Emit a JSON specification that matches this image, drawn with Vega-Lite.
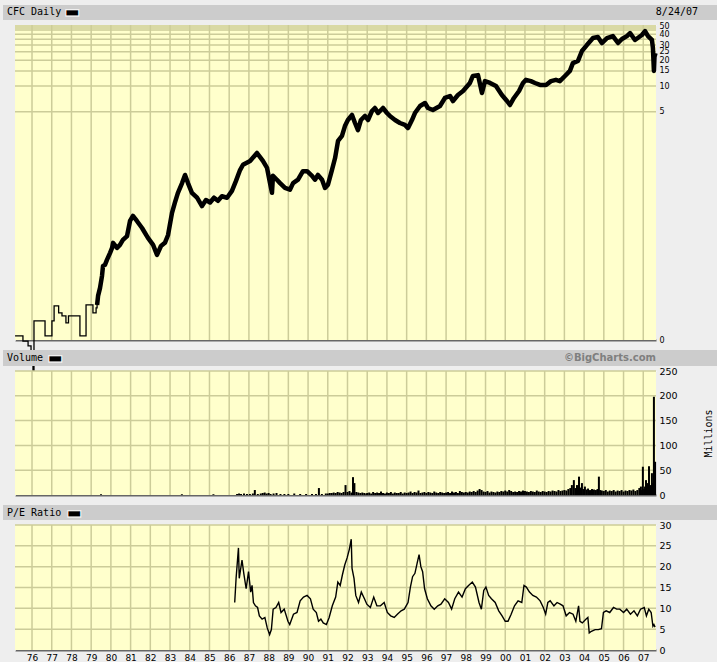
{
  "$schema": "https://vega.github.io/schema/vega-lite/v6.json",
  "background": "#eeeeee",
  "padding": {"left": 3, "top": 2, "right": 0, "bottom": 0},
  "bounds": "flush",
  "spacing": 5,
  "config": {
    "font": "DejaVu Sans",
    "view": {"stroke": null},
    "axis": {"grid": false, "ticks": false, "labelFont": "DejaVu Sans", "labelFontSize": 9.5, "labelColor": "#000000", "labelFlush": false, "labelOverlap": false, "labelBound": false, "title": null}
  },
  "datasets": {
    "years": [{"yr":1976},{"yr":1977},{"yr":1978},{"yr":1979},{"yr":1980},{"yr":1981},{"yr":1982},{"yr":1983},{"yr":1984},{"yr":1985},{"yr":1986},{"yr":1987},{"yr":1988},{"yr":1989},{"yr":1990},{"yr":1991},{"yr":1992},{"yr":1993},{"yr":1994},{"yr":1995},{"yr":1996},{"yr":1997},{"yr":1998},{"yr":1999},{"yr":2000},{"yr":2001},{"yr":2002},{"yr":2003},{"yr":2004},{"yr":2005},{"yr":2006},{"yr":2007}],
    "pgrid": [{"g":5},{"g":10},{"g":15},{"g":20},{"g":25},{"g":30},{"g":35},{"g":40},{"g":45},{"g":47.5},{"g":50}],
    "vgrid": [{"g":50},{"g":100},{"g":150},{"g":200},{"g":250}],
    "egrid": [{"g":5},{"g":10},{"g":15},{"g":20},{"g":25},{"g":30}],
    "early": [
      {"t":1975.14,"p":0.0123},{"t":1975.54,"p":0.0107},{"t":1975.80,"p":0.0094},{"t":1975.95,"p":0.0078},
      {"t":1976.05,"p":0.0048},{"t":1976.10,"p":0.0184},{"t":1976.66,"p":0.0123},{"t":1977.01,"p":0.0184},
      {"t":1977.12,"p":0.0275},{"t":1977.35,"p":0.0228},{"t":1977.52,"p":0.0210},{"t":1977.72,"p":0.0174},
      {"t":1977.85,"p":0.0210},{"t":1978.43,"p":0.0123},{"t":1978.74,"p":0.0282},{"t":1979.09,"p":0.0228},
      {"t":1979.25,"p":0.0261},{"t":1979.30,"p":0.0282}
    ],
    "price": [
      {"t":1979.30,"p":0.0282},{"t":1979.35,"p":0.0359},{"t":1979.45,"p":0.0445},{"t":1979.55,"p":0.0615},
      {"t":1979.60,"p":0.0802},{"t":1979.70,"p":0.0825},{"t":1979.80,"p":0.0944},{"t":1979.96,"p":0.114},
      {"t":1980.06,"p":0.130},{"t":1980.11,"p":0.149},{"t":1980.31,"p":0.130},{"t":1980.46,"p":0.141},
      {"t":1980.61,"p":0.161},{"t":1980.82,"p":0.179},{"t":1980.97,"p":0.268},{"t":1981.12,"p":0.307},
      {"t":1981.32,"p":0.268},{"t":1981.58,"p":0.222},{"t":1981.88,"p":0.170},{"t":1982.14,"p":0.141},
      {"t":1982.34,"p":0.108},{"t":1982.54,"p":0.137},{"t":1982.74,"p":0.149},{"t":1982.90,"p":0.184},
      {"t":1983.10,"p":0.333},{"t":1983.25,"p":0.44},{"t":1983.40,"p":0.57},{"t":1983.61,"p":0.74},
      {"t":1983.76,"p":0.92},{"t":1983.91,"p":0.74},{"t":1984.11,"p":0.57},{"t":1984.37,"p":0.50},
      {"t":1984.62,"p":0.40},{"t":1984.82,"p":0.47},{"t":1985.03,"p":0.44},{"t":1985.23,"p":0.50},
      {"t":1985.43,"p":0.46},{"t":1985.63,"p":0.52},{"t":1985.89,"p":0.50},{"t":1986.14,"p":0.60},
      {"t":1986.34,"p":0.78},{"t":1986.55,"p":1.05},{"t":1986.70,"p":1.21},{"t":1987.06,"p":1.34},
      {"t":1987.41,"p":1.66},{"t":1987.71,"p":1.34},{"t":1987.92,"p":1.11},{"t":1988.07,"p":0.74},
      {"t":1988.17,"p":0.57},{"t":1988.22,"p":0.90},{"t":1988.42,"p":0.81},{"t":1988.58,"p":0.74},
      {"t":1988.83,"p":0.65},{"t":1989.08,"p":0.62},{"t":1989.24,"p":0.74},{"t":1989.49,"p":0.81},
      {"t":1989.74,"p":1.02},{"t":1989.95,"p":1.02},{"t":1990.20,"p":0.90},{"t":1990.35,"p":0.81},
      {"t":1990.50,"p":0.92},{"t":1990.71,"p":0.81},{"t":1990.86,"p":0.65},{"t":1991.01,"p":0.71},
      {"t":1991.21,"p":1.05},{"t":1991.37,"p":1.45},{"t":1991.52,"p":2.29},{"t":1991.72,"p":2.62},
      {"t":1991.87,"p":3.42},{"t":1992.02,"p":4.02},{"t":1992.23,"p":4.60},{"t":1992.38,"p":3.71},
      {"t":1992.53,"p":3.07},{"t":1992.68,"p":4.02},{"t":1992.89,"p":4.48},{"t":1993.04,"p":4.02},
      {"t":1993.24,"p":5.12},{"t":1993.39,"p":5.55},{"t":1993.55,"p":4.85},{"t":1993.80,"p":5.55},
      {"t":1994.00,"p":4.85},{"t":1994.15,"p":4.48},{"t":1994.41,"p":4.02},{"t":1994.66,"p":3.71},
      {"t":1994.91,"p":3.52},{"t":1995.07,"p":3.24},{"t":1995.27,"p":4.02},{"t":1995.42,"p":4.85},
      {"t":1995.68,"p":5.85},{"t":1995.93,"p":6.34},{"t":1996.08,"p":5.55},{"t":1996.33,"p":5.26},
      {"t":1996.69,"p":5.85},{"t":1996.94,"p":7.26},{"t":1997.20,"p":7.65},{"t":1997.35,"p":6.69},
      {"t":1997.60,"p":7.86},{"t":1997.86,"p":8.75},{"t":1998.21,"p":10.85},{"t":1998.36,"p":13.1},
      {"t":1998.62,"p":13.4},{"t":1998.82,"p":8.30},{"t":1998.97,"p":11.4},{"t":1999.23,"p":10.85},
      {"t":1999.53,"p":10.0},{"t":1999.83,"p":7.86},{"t":2000.09,"p":6.69},{"t":2000.24,"p":6.01},
      {"t":2000.44,"p":7.26},{"t":2000.70,"p":8.75},{"t":2000.90,"p":10.85},{"t":2001.05,"p":11.8},
      {"t":2001.30,"p":11.4},{"t":2001.51,"p":10.85},{"t":2001.76,"p":10.3},{"t":2002.07,"p":10.3},
      {"t":2002.32,"p":11.4},{"t":2002.57,"p":11.8},{"t":2002.77,"p":11.4},{"t":2003.03,"p":13.1},
      {"t":2003.28,"p":15.0},{"t":2003.43,"p":18.5},{"t":2003.69,"p":19.6},{"t":2003.89,"p":25.6},
      {"t":2004.14,"p":30.0},{"t":2004.45,"p":36.2},{"t":2004.70,"p":37.2},{"t":2004.90,"p":31.7},
      {"t":2005.16,"p":36.2},{"t":2005.46,"p":38.2},{"t":2005.72,"p":31.7},{"t":2005.92,"p":35.3},
      {"t":2006.17,"p":38.2},{"t":2006.33,"p":41.4},{"t":2006.58,"p":34.4},{"t":2006.93,"p":39.3},
      {"t":2007.09,"p":43.7},{"t":2007.24,"p":38.2},{"t":2007.44,"p":34.4},{"t":2007.49,"p":27.7},
      {"t":2007.54,"p":15.0},{"t":2007.57,"p":22.0},{"t":2007.62,"p":24.2}
    ],
    "vol": [
      {"t":1979.5,"v":1.5},{"t":1983.6,"v":1.5},{"t":1985.2,"v":1.5},
      {"t":1986.4,"v":2},{"t":1986.5,"v":3},{"t":1986.6,"v":2},{"t":1986.75,"v":3},{"t":1986.9,"v":2},
      {"t":1987.05,"v":2},{"t":1987.2,"v":3},{"t":1987.3,"v":10},{"t":1987.45,"v":2},{"t":1987.6,"v":3},
      {"t":1987.7,"v":4},{"t":1987.8,"v":5},{"t":1987.9,"v":3},{"t":1988.0,"v":4},{"t":1988.1,"v":2},
      {"t":1988.25,"v":3},{"t":1988.4,"v":4},{"t":1988.6,"v":2},{"t":1988.8,"v":2},{"t":1989.0,"v":2},
      {"t":1989.3,"v":3},{"t":1989.6,"v":2},{"t":1989.9,"v":2},{"t":1990.2,"v":2},{"t":1990.4,"v":2},
      {"t":1990.55,"v":14},{"t":1990.7,"v":2},{"t":1990.9,"v":3},{"t":1991.0,"v":3},{"t":1991.1,"v":4},
      {"t":1991.2,"v":4},{"t":1991.3,"v":5},{"t":1991.4,"v":4},{"t":1991.5,"v":6},{"t":1991.6,"v":5},
      {"t":1991.7,"v":4},{"t":1991.8,"v":6},{"t":1991.9,"v":20},{"t":1992.0,"v":6},{"t":1992.1,"v":8},
      {"t":1992.2,"v":5},{"t":1992.28,"v":36},{"t":1992.35,"v":24},{"t":1992.45,"v":6},{"t":1992.55,"v":5},
      {"t":1992.65,"v":4},{"t":1992.75,"v":5},{"t":1992.85,"v":4},{"t":1992.95,"v":3},
      {"t":1993.0,"v":4},{"t":1993.1,"v":5},{"t":1993.2,"v":3},{"t":1993.3,"v":6},{"t":1993.4,"v":4},{"t":1993.5,"v":5},{"t":1993.6,"v":4},{"t":1993.7,"v":7},{"t":1993.8,"v":4},{"t":1993.9,"v":3},
      {"t":1994.0,"v":5},{"t":1994.1,"v":4},{"t":1994.2,"v":6},{"t":1994.3,"v":3},{"t":1994.4,"v":5},{"t":1994.5,"v":4},{"t":1994.6,"v":4},{"t":1994.7,"v":6},{"t":1994.8,"v":3},{"t":1994.9,"v":5},
      {"t":1995.0,"v":4},{"t":1995.1,"v":5},{"t":1995.2,"v":7},{"t":1995.3,"v":4},{"t":1995.4,"v":6},{"t":1995.5,"v":5},{"t":1995.6,"v":9},{"t":1995.7,"v":4},{"t":1995.8,"v":5},{"t":1995.9,"v":6},
      {"t":1996.0,"v":4},{"t":1996.1,"v":6},{"t":1996.2,"v":5},{"t":1996.3,"v":4},{"t":1996.4,"v":7},{"t":1996.5,"v":5},{"t":1996.6,"v":4},{"t":1996.7,"v":6},{"t":1996.8,"v":5},{"t":1996.9,"v":4},
      {"t":1997.0,"v":5},{"t":1997.1,"v":6},{"t":1997.2,"v":4},{"t":1997.3,"v":7},{"t":1997.4,"v":5},{"t":1997.5,"v":6},{"t":1997.6,"v":4},{"t":1997.7,"v":8},{"t":1997.8,"v":6},{"t":1997.9,"v":5},
      {"t":1998.0,"v":6},{"t":1998.1,"v":5},{"t":1998.2,"v":7},{"t":1998.3,"v":6},{"t":1998.4,"v":8},{"t":1998.5,"v":6},{"t":1998.6,"v":9},{"t":1998.7,"v":12},{"t":1998.8,"v":10},{"t":1998.9,"v":7},
      {"t":1999.0,"v":6},{"t":1999.1,"v":8},{"t":1999.2,"v":5},{"t":1999.3,"v":7},{"t":1999.4,"v":6},{"t":1999.5,"v":5},{"t":1999.6,"v":7},{"t":1999.7,"v":6},{"t":1999.8,"v":8},{"t":1999.9,"v":7},
      {"t":2000.0,"v":9},{"t":2000.1,"v":7},{"t":2000.2,"v":10},{"t":2000.3,"v":8},{"t":2000.4,"v":6},{"t":2000.5,"v":7},{"t":2000.6,"v":6},{"t":2000.7,"v":8},{"t":2000.8,"v":7},{"t":2000.9,"v":9},
      {"t":2001.0,"v":8},{"t":2001.1,"v":7},{"t":2001.2,"v":6},{"t":2001.3,"v":8},{"t":2001.4,"v":7},{"t":2001.5,"v":6},{"t":2001.6,"v":9},{"t":2001.7,"v":7},{"t":2001.8,"v":6},{"t":2001.9,"v":8},
      {"t":2002.0,"v":7},{"t":2002.1,"v":6},{"t":2002.2,"v":8},{"t":2002.3,"v":7},{"t":2002.4,"v":9},{"t":2002.5,"v":8},{"t":2002.6,"v":7},{"t":2002.7,"v":10},{"t":2002.8,"v":8},{"t":2002.9,"v":9},
      {"t":2003.0,"v":10},{"t":2003.1,"v":9},{"t":2003.2,"v":12},{"t":2003.3,"v":14},{"t":2003.38,"v":20},{"t":2003.48,"v":30},{"t":2003.56,"v":14},{"t":2003.64,"v":20},{"t":2003.74,"v":37},{"t":2003.82,"v":15},
      {"t":2003.89,"v":24},{"t":2003.96,"v":12},{"t":2004.04,"v":17},{"t":2004.12,"v":11},{"t":2004.2,"v":13},{"t":2004.3,"v":10},{"t":2004.4,"v":12},{"t":2004.5,"v":11},{"t":2004.6,"v":10},{"t":2004.68,"v":12},
      {"t":2004.75,"v":37},{"t":2004.82,"v":10},{"t":2004.9,"v":9},{"t":2005.0,"v":8},{"t":2005.1,"v":10},{"t":2005.2,"v":7},{"t":2005.3,"v":9},{"t":2005.4,"v":8},{"t":2005.5,"v":10},{"t":2005.6,"v":7},
      {"t":2005.7,"v":9},{"t":2005.8,"v":8},{"t":2005.9,"v":10},{"t":2006.0,"v":7},{"t":2006.1,"v":9},{"t":2006.2,"v":8},{"t":2006.3,"v":10},{"t":2006.4,"v":9},{"t":2006.5,"v":11},{"t":2006.6,"v":8},
      {"t":2006.7,"v":10},{"t":2006.8,"v":14},{"t":2006.88,"v":17},{"t":2006.94,"v":10},{"t":2006.98,"v":57},{"t":2007.04,"v":12},{"t":2007.09,"v":17},{"t":2007.14,"v":30},{"t":2007.19,"v":24},{"t":2007.24,"v":12},
      {"t":2007.29,"v":58},{"t":2007.34,"v":14},{"t":2007.39,"v":20},{"t":2007.44,"v":44},{"t":2007.49,"v":24},{"t":2007.54,"v":198},{"t":2007.60,"v":67}
    ],
    "pe": [
      {"t":1986.28,"e":11.4},{"t":1986.35,"e":17.2},{"t":1986.47,"e":24.5},{"t":1986.51,"e":17.2},{"t":1986.65,"e":21.6},
      {"t":1986.74,"e":18.4},{"t":1986.86,"e":14.7},{"t":1986.98,"e":18.8},{"t":1987.09,"e":13.9},{"t":1987.16,"e":15.5},
      {"t":1987.23,"e":11.4},{"t":1987.33,"e":10.6},{"t":1987.44,"e":10.2},{"t":1987.53,"e":8.2},{"t":1987.67,"e":7.4},
      {"t":1987.81,"e":7.8},{"t":1987.93,"e":5.3},{"t":1988.05,"e":3.7},{"t":1988.14,"e":4.9},{"t":1988.23,"e":9.8},
      {"t":1988.37,"e":10.2},{"t":1988.51,"e":11.4},{"t":1988.63,"e":9.0},{"t":1988.79,"e":9.8},{"t":1988.98,"e":6.9},
      {"t":1989.07,"e":6.1},{"t":1989.26,"e":8.6},{"t":1989.44,"e":9.0},{"t":1989.60,"e":11.8},{"t":1989.77,"e":12.7},
      {"t":1989.95,"e":13.1},{"t":1990.12,"e":12.3},{"t":1990.26,"e":9.8},{"t":1990.42,"e":9.0},{"t":1990.53,"e":6.9},
      {"t":1990.65,"e":7.4},{"t":1990.77,"e":6.5},{"t":1990.93,"e":6.1},{"t":1991.07,"e":7.8},{"t":1991.23,"e":10.6},
      {"t":1991.40,"e":12.7},{"t":1991.51,"e":16.3},{"t":1991.63,"e":15.5},{"t":1991.74,"e":18.0},{"t":1991.86,"e":20.4},
      {"t":1991.98,"e":22.1},{"t":1992.09,"e":24.1},{"t":1992.19,"e":26.6},{"t":1992.23,"e":19.6},{"t":1992.33,"e":17.2},
      {"t":1992.42,"e":13.1},{"t":1992.56,"e":11.4},{"t":1992.70,"e":13.9},{"t":1992.86,"e":12.3},{"t":1992.98,"e":11.0},
      {"t":1993.16,"e":10.2},{"t":1993.33,"e":12.7},{"t":1993.49,"e":10.6},{"t":1993.67,"e":10.6},{"t":1993.86,"e":11.4},
      {"t":1994.02,"e":9.0},{"t":1994.19,"e":8.2},{"t":1994.37,"e":7.8},{"t":1994.53,"e":8.6},{"t":1994.72,"e":9.4},
      {"t":1994.88,"e":9.8},{"t":1995.07,"e":11.4},{"t":1995.19,"e":15.1},{"t":1995.30,"e":17.6},{"t":1995.42,"e":18.4},
      {"t":1995.53,"e":20.8},{"t":1995.63,"e":22.9},{"t":1995.72,"e":20.0},{"t":1995.81,"e":18.8},{"t":1995.91,"e":14.7},
      {"t":1996.05,"e":12.3},{"t":1996.23,"e":10.6},{"t":1996.40,"e":9.8},{"t":1996.58,"e":10.6},{"t":1996.74,"e":11.0},
      {"t":1996.93,"e":12.3},{"t":1997.12,"e":11.4},{"t":1997.28,"e":9.8},{"t":1997.44,"e":12.3},{"t":1997.63,"e":13.9},
      {"t":1997.81,"e":12.7},{"t":1997.98,"e":14.7},{"t":1998.14,"e":15.5},{"t":1998.33,"e":16.3},{"t":1998.49,"e":15.1},
      {"t":1998.67,"e":11.4},{"t":1998.79,"e":9.8},{"t":1998.91,"e":14.3},{"t":1999.02,"e":15.1},{"t":1999.16,"e":13.1},
      {"t":1999.30,"e":12.3},{"t":1999.49,"e":11.4},{"t":1999.67,"e":9.4},{"t":1999.84,"e":8.2},{"t":2000.00,"e":6.9},
      {"t":2000.14,"e":6.9},{"t":2000.30,"e":8.6},{"t":2000.47,"e":10.6},{"t":2000.65,"e":11.8},{"t":2000.84,"e":11.4},
      {"t":2000.95,"e":15.5},{"t":2001.07,"e":15.1},{"t":2001.23,"e":13.9},{"t":2001.40,"e":13.1},{"t":2001.58,"e":12.7},
      {"t":2001.77,"e":11.8},{"t":2001.93,"e":10.2},{"t":2002.05,"e":8.6},{"t":2002.16,"e":11.4},{"t":2002.28,"e":11.8},
      {"t":2002.47,"e":10.6},{"t":2002.63,"e":11.4},{"t":2002.79,"e":11.0},{"t":2002.93,"e":10.6},{"t":2003.09,"e":8.2},
      {"t":2003.26,"e":9.0},{"t":2003.44,"e":8.6},{"t":2003.58,"e":6.9},{"t":2003.72,"e":10.6},{"t":2003.79,"e":6.9},
      {"t":2003.91,"e":6.5},{"t":2004.09,"e":7.4},{"t":2004.19,"e":7.8},{"t":2004.26,"e":4.1},{"t":2004.37,"e":4.5},
      {"t":2004.56,"e":4.9},{"t":2004.72,"e":4.9},{"t":2004.88,"e":5.1},{"t":2004.98,"e":9.0},{"t":2005.12,"e":9.4},
      {"t":2005.30,"e":9.0},{"t":2005.49,"e":10.2},{"t":2005.65,"e":9.8},{"t":2005.81,"e":9.8},{"t":2006.00,"e":9.0},
      {"t":2006.16,"e":9.8},{"t":2006.35,"e":8.6},{"t":2006.53,"e":9.4},{"t":2006.70,"e":8.2},{"t":2006.86,"e":9.8},
      {"t":2007.05,"e":10.2},{"t":2007.16,"e":8.2},{"t":2007.28,"e":9.8},{"t":2007.40,"e":9.0},{"t":2007.49,"e":5.7},
      {"t":2007.54,"e":6.1},{"t":2007.60,"e":5.5}
    ]
  },
  "vconcat": [
    {
      "width": 714, "height": 15,
      "view": {"fill": "#cccccc", "stroke": null},
      "layer": [
        {"data": {"values": [{"s": "CFC Daily"}]}, "mark": {"type": "text", "font": "DejaVu Sans Mono", "fontSize": 10, "align": "left", "baseline": "middle", "color": "#000000"}, "encoding": {"text": {"field": "s"}, "x": {"value": 4}, "y": {"value": 7}}},
        {"data": {"values": [{"s": "▬"}]}, "mark": {"type": "text", "font": "DejaVu Sans", "fontSize": 17, "align": "left", "baseline": "middle", "color": "#000000", "stroke": "#ffffff", "strokeWidth": 1}, "encoding": {"text": {"field": "s"}, "x": {"value": 61}, "y": {"value": 6.5}}},
        {"data": {"values": [{"s": "8/24/07"}]}, "mark": {"type": "text", "font": "DejaVu Sans Mono", "fontSize": 10, "align": "right", "baseline": "middle", "color": "#000000"}, "encoding": {"text": {"field": "s"}, "x": {"value": 695}, "y": {"value": 7}}}
      ]
    },
    {
      "width": 714, "height": 320,
      "resolve": {"axis": {"x": "independent", "y": "independent"}},
      "layer": [
        {"data": {"values": [{}]}, "mark": {"type": "rect", "color": "#ffffcc"},
         "encoding": {
           "x": {"datum": 1975.137, "type": "quantitative", "scale": {"domain": [1975.137, 2007.646], "range": [12, 653], "nice": false, "zero": false}, "axis": {"orient": "top", "labels": false, "domainColor": "#ffffff", "domainWidth": 1}},
           "x2": {"datum": 2007.646},
           "y": {"datum": 0.011, "type": "quantitative", "scale": {"type": "log", "domain": [0.011, 51.4], "range": [315, 0], "nice": false}, "axis": {"orient": "left", "offset": -12, "labels": false, "domainColor": "#ffffff", "domainWidth": 1}},
           "y2": {"datum": 51.4}}},
        {"data": {"name": "years"}, "mark": {"type": "rule", "color": "#cccc99", "strokeWidth": 1.5},
         "encoding": {
           "x": {"field": "yr", "type": "quantitative", "scale": {"domain": [1975.137, 2007.646], "range": [12, 653], "nice": false, "zero": false}, "axis": null},
           "y": {"datum": 0.011, "type": "quantitative", "scale": {"type": "log", "domain": [0.011, 51.4], "range": [315, 0], "nice": false}, "axis": null},
           "y2": {"datum": 51.4}}},
        {"data": {"name": "pgrid"}, "mark": {"type": "rule", "color": "#cccc99", "strokeWidth": 1.5},
         "encoding": {
           "x": {"datum": 1975.137, "type": "quantitative", "scale": {"domain": [1975.137, 2007.646], "range": [12, 653], "nice": false, "zero": false}, "axis": null},
           "x2": {"datum": 2007.646},
           "y": {"field": "g", "type": "quantitative", "scale": {"type": "log", "domain": [0.011, 51.4], "range": [315, 0], "nice": false}, "axis": null}}},
        {"data": {"name": "early"}, "mark": {"type": "line", "interpolate": "step-after", "color": "#000000", "strokeWidth": 1.3},
         "encoding": {
           "x": {"field": "t", "type": "quantitative", "scale": {"domain": [1975.137, 2007.646], "range": [12, 653], "nice": false, "zero": false}, "axis": null},
           "y": {"field": "p", "type": "quantitative", "scale": {"type": "log", "domain": [0.011, 51.4], "range": [315, 0], "nice": false}, "axis": null}}},
        {"data": {"name": "price"}, "mark": {"type": "line", "color": "#000000", "strokeWidth": 4.5, "strokeJoin": "round"},
         "encoding": {
           "x": {"field": "t", "type": "quantitative", "scale": {"domain": [1975.137, 2007.646], "range": [12, 653], "nice": false, "zero": false}, "axis": {"orient": "bottom", "offset": -5, "labels": false, "domainColor": "#666666", "domainWidth": 2}},
           "y": {"field": "p", "type": "quantitative", "scale": {"type": "log", "domain": [0.011, 51.4], "range": [315, 0], "nice": false}, "axis": {"orient": "right", "offset": -64, "values": [0.011, 5, 10, 15, 20, 25, 30, 40, 50], "labelExpr": "datum.value < 1 ? '0' : format(datum.value, 'd')", "labelFontSize": 8, "labelPadding": 6, "domainColor": "#666666", "domainWidth": 2}}}}
      ]
    },
    {
      "width": 714, "height": 16,
      "view": {"fill": "#cccccc", "stroke": null},
      "layer": [
        {"data": {"values": [{"s": "Volume"}]}, "mark": {"type": "text", "font": "DejaVu Sans Mono", "fontSize": 10, "align": "left", "baseline": "middle", "color": "#000000"}, "encoding": {"text": {"field": "s"}, "x": {"value": 4}, "y": {"value": 8}}},
        {"data": {"values": [{"s": "▬"}]}, "mark": {"type": "text", "font": "DejaVu Sans", "fontSize": 17, "align": "left", "baseline": "middle", "color": "#000000", "stroke": "#ffffff", "strokeWidth": 1}, "encoding": {"text": {"field": "s"}, "x": {"value": 44}, "y": {"value": 7.5}}},
        {"data": {"values": [{"s": "©BigCharts.com"}]}, "mark": {"type": "text", "font": "DejaVu Sans", "fontSize": 10, "fontWeight": "bold", "align": "right", "baseline": "middle", "color": "#7f7f7f"}, "encoding": {"text": {"field": "s"}, "x": {"value": 653}, "y": {"value": 8}}}
      ]
    },
    {
      "width": 714, "height": 129,
      "resolve": {"axis": {"x": "independent", "y": "independent"}},
      "layer": [
        {"data": {"values": [{}]}, "mark": {"type": "rect", "color": "#ffffcc"},
         "encoding": {
           "x": {"datum": 1975.137, "type": "quantitative", "scale": {"domain": [1975.137, 2007.646], "range": [12, 653], "nice": false, "zero": false}, "axis": {"orient": "top", "labels": false, "domainColor": "#ffffff", "domainWidth": 1}},
           "x2": {"datum": 2007.646},
           "y": {"datum": 0, "type": "quantitative", "scale": {"domain": [0, 250], "range": [124, 0], "nice": false, "zero": false}, "axis": {"orient": "left", "offset": -12, "labels": false, "domainColor": "#ffffff", "domainWidth": 1}},
           "y2": {"datum": 250}}},
        {"data": {"name": "years"}, "mark": {"type": "rule", "color": "#cccc99", "strokeWidth": 1.5},
         "encoding": {
           "x": {"field": "yr", "type": "quantitative", "scale": {"domain": [1975.137, 2007.646], "range": [12, 653], "nice": false, "zero": false}, "axis": null},
           "y": {"datum": 0, "type": "quantitative", "scale": {"domain": [0, 250], "range": [124, 0], "nice": false, "zero": false}, "axis": null},
           "y2": {"datum": 250}}},
        {"data": {"name": "vgrid"}, "mark": {"type": "rule", "color": "#cccc99", "strokeWidth": 1.5},
         "encoding": {
           "x": {"datum": 1975.137, "type": "quantitative", "scale": {"domain": [1975.137, 2007.646], "range": [12, 653], "nice": false, "zero": false}, "axis": null},
           "x2": {"datum": 2007.646},
           "y": {"field": "g", "type": "quantitative", "scale": {"domain": [0, 250], "range": [124, 0], "nice": false, "zero": false}, "axis": null}}},
        {"data": {"name": "vol"}, "mark": {"type": "rule", "color": "#000000", "strokeWidth": 2},
         "encoding": {
           "x": {"field": "t", "type": "quantitative", "scale": {"domain": [1975.137, 2007.646], "range": [12, 653], "nice": false, "zero": false}, "axis": {"orient": "bottom", "offset": -5, "labels": false, "domainColor": "#666666", "domainWidth": 2}},
           "y": {"field": "v", "type": "quantitative", "scale": {"domain": [0, 250], "range": [124, 0], "nice": false, "zero": false}, "axis": {"orient": "right", "offset": -64, "values": [0, 50, 100, 150, 200, 250], "labelPadding": 6, "domainColor": "#666666", "domainWidth": 2, "title": "Millions", "titleFont": "DejaVu Sans Mono", "titleFontSize": 10, "titleFontWeight": "normal", "titleColor": "#000000", "titleAngle": 270, "titlePadding": 36}},
           "y2": {"datum": 0}}}
      ]
    },
    {
      "width": 714, "height": 15,
      "view": {"fill": "#cccccc", "stroke": null},
      "layer": [
        {"data": {"values": [{"s": "P/E Ratio"}]}, "mark": {"type": "text", "font": "DejaVu Sans Mono", "fontSize": 10, "align": "left", "baseline": "middle", "color": "#000000"}, "encoding": {"text": {"field": "s"}, "x": {"value": 4}, "y": {"value": 8}}},
        {"data": {"values": [{"s": "▬"}]}, "mark": {"type": "text", "font": "DejaVu Sans", "fontSize": 17, "align": "left", "baseline": "middle", "color": "#000000", "stroke": "#ffffff", "strokeWidth": 1}, "encoding": {"text": {"field": "s"}, "x": {"value": 63}, "y": {"value": 7.5}}}
      ]
    },
    {
      "width": 714, "height": 125,
      "resolve": {"axis": {"x": "independent", "y": "independent"}},
      "layer": [
        {"data": {"values": [{}]}, "mark": {"type": "rect", "color": "#ffffcc"},
         "encoding": {
           "x": {"datum": 1975.137, "type": "quantitative", "scale": {"domain": [1975.137, 2007.646], "range": [12, 653], "nice": false, "zero": false}, "axis": {"orient": "top", "labels": false, "domainColor": "#ffffff", "domainWidth": 1}},
           "x2": {"datum": 2007.646},
           "y": {"datum": 0, "type": "quantitative", "scale": {"domain": [0, 30], "nice": false, "zero": false}, "axis": {"orient": "left", "offset": -12, "labels": false, "domainColor": "#ffffff", "domainWidth": 1}},
           "y2": {"datum": 30}}},
        {"data": {"name": "years"}, "mark": {"type": "rule", "color": "#cccc99", "strokeWidth": 1.5},
         "encoding": {
           "x": {"field": "yr", "type": "quantitative", "scale": {"domain": [1975.137, 2007.646], "range": [12, 653], "nice": false, "zero": false}, "axis": null},
           "y": {"datum": 0, "type": "quantitative", "scale": {"domain": [0, 30], "nice": false, "zero": false}, "axis": null},
           "y2": {"datum": 30}}},
        {"data": {"name": "egrid"}, "mark": {"type": "rule", "color": "#cccc99", "strokeWidth": 1.5},
         "encoding": {
           "x": {"datum": 1975.137, "type": "quantitative", "scale": {"domain": [1975.137, 2007.646], "range": [12, 653], "nice": false, "zero": false}, "axis": null},
           "x2": {"datum": 2007.646},
           "y": {"field": "g", "type": "quantitative", "scale": {"domain": [0, 30], "nice": false, "zero": false}, "axis": null}}},
        {"data": {"name": "pe"}, "mark": {"type": "line", "color": "#000000", "strokeWidth": 1.4},
         "encoding": {
           "x": {"field": "t", "type": "quantitative", "scale": {"domain": [1975.137, 2007.646], "range": [12, 653], "nice": false, "zero": false}, "axis": {"orient": "bottom", "values": [1976,1977,1978,1979,1980,1981,1982,1983,1984,1985,1986,1987,1988,1989,1990,1991,1992,1993,1994,1995,1996,1997,1998,1999,2000,2001,2002,2003,2004,2005,2006,2007], "labelExpr": "format(datum.value % 100, '02d')", "labelFontSize": 9, "labelPadding": 3, "domainColor": "#666666", "domainWidth": 2}},
           "y": {"field": "e", "type": "quantitative", "scale": {"domain": [0, 30], "nice": false, "zero": false}, "axis": {"orient": "right", "offset": -64, "values": [0, 5, 10, 15, 20, 25, 30], "labelPadding": 6, "domainColor": "#666666", "domainWidth": 2}}}}
      ]
    }
  ]
}
